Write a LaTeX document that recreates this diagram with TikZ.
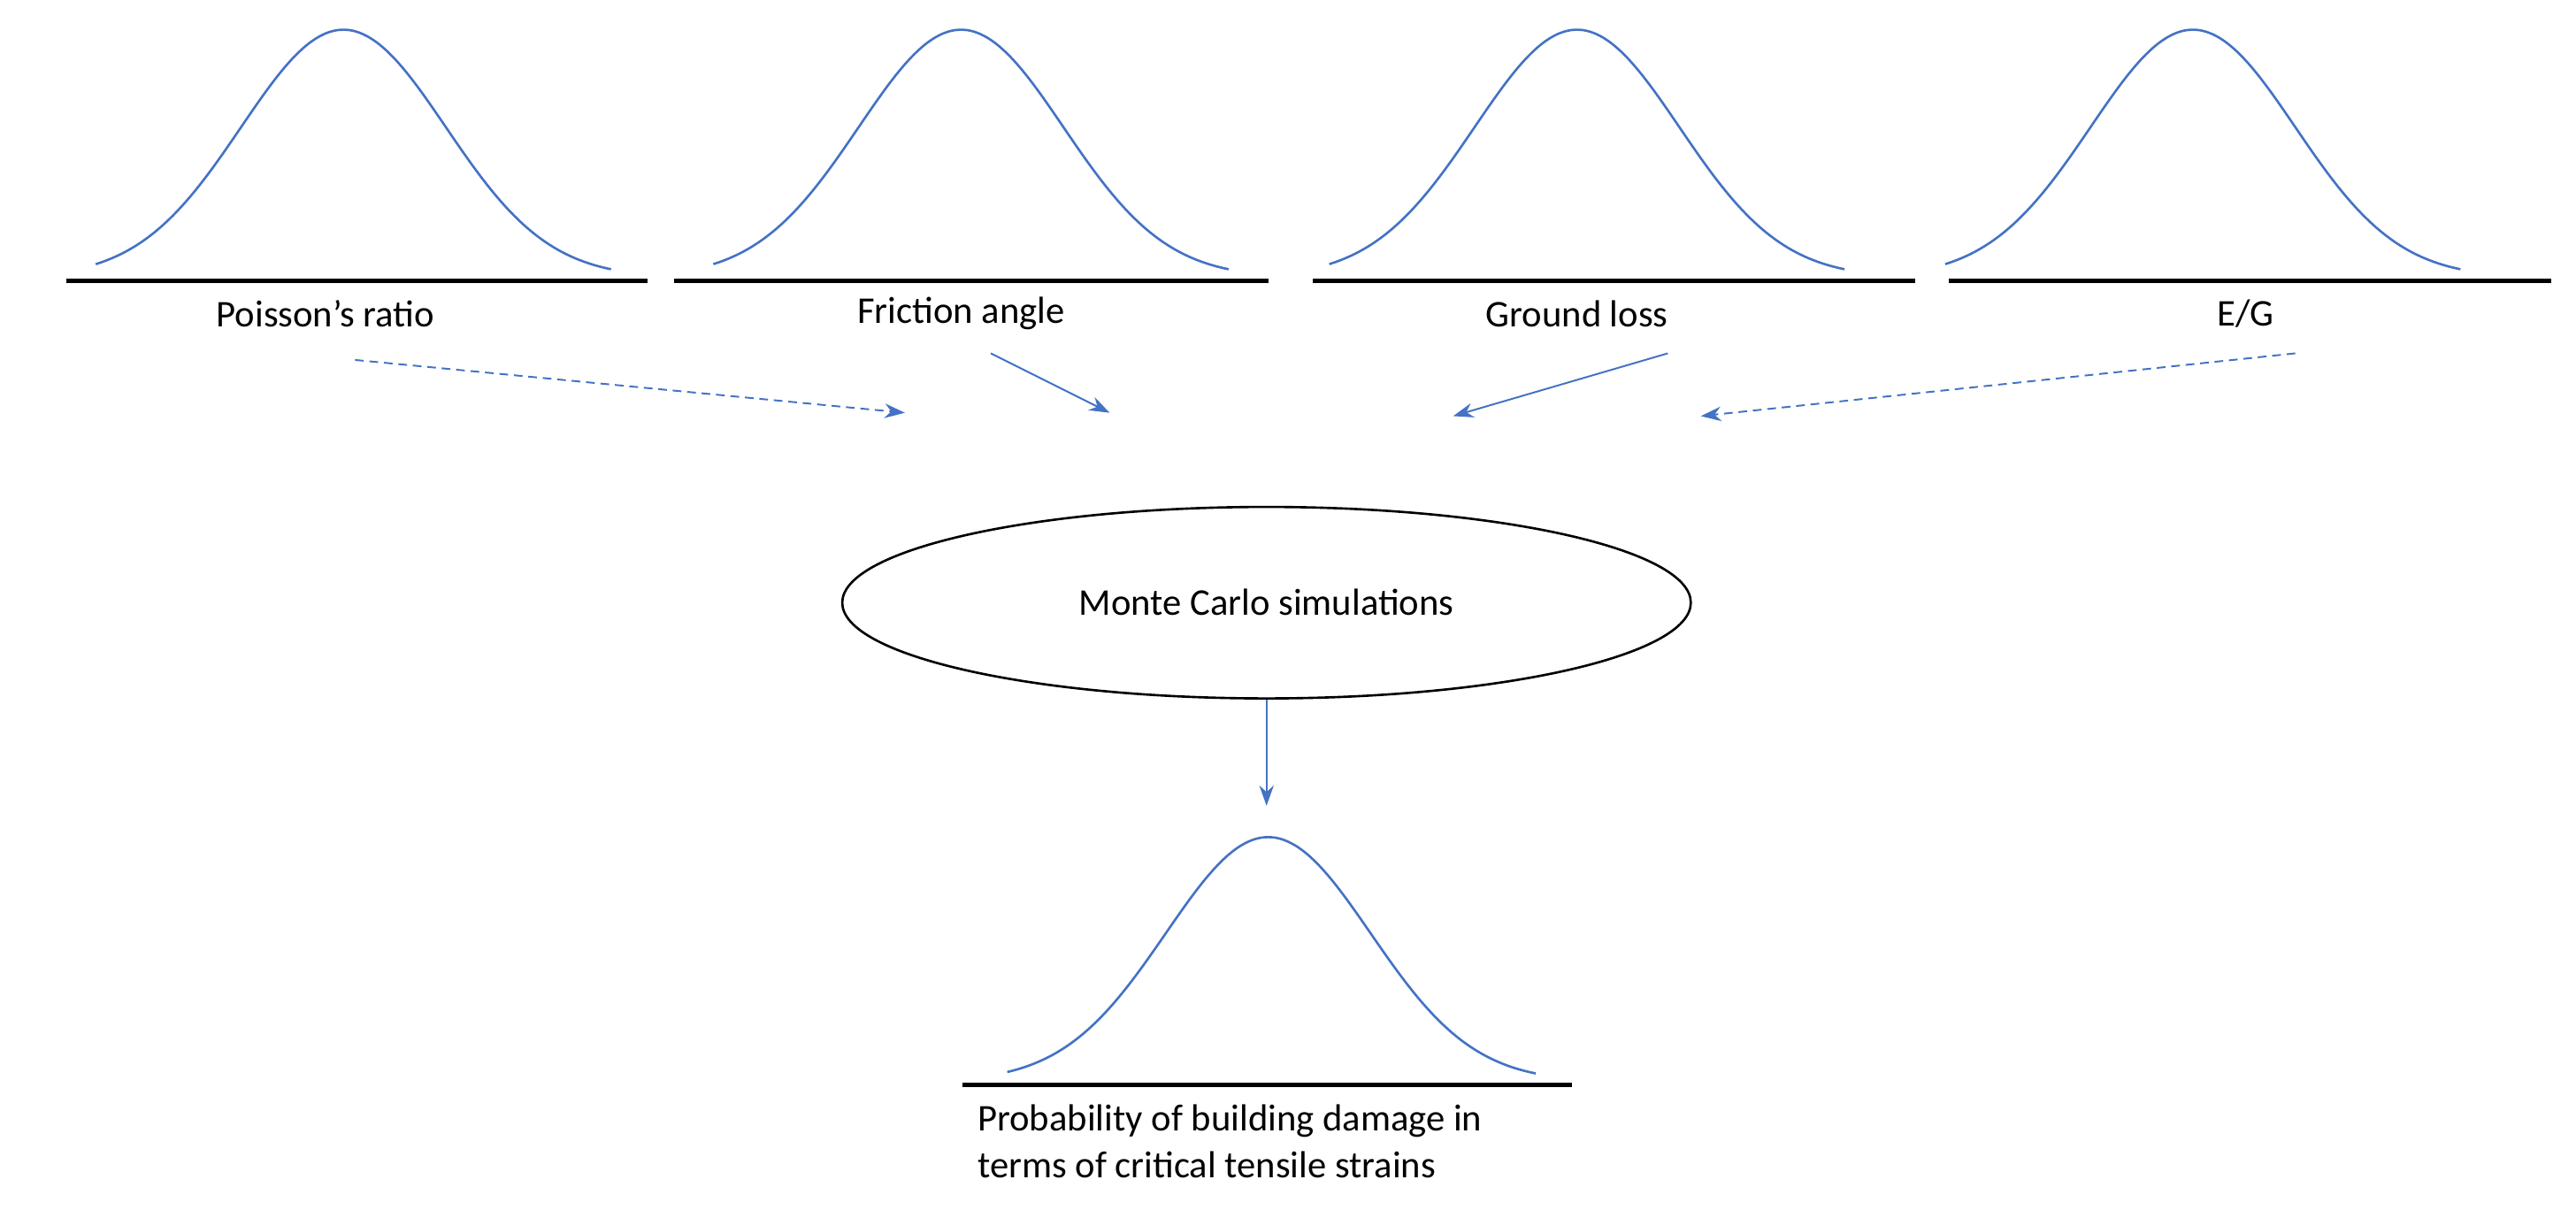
\documentclass[tikz,border=0pt]{standalone}
\usepackage{fontspec}
\setmainfont{Carlito}
\usetikzlibrary{arrows.meta,shapes.geometric}
\definecolor{bl}{RGB}{68,114,196}
\begin{document}
\begin{tikzpicture}[x=0.02cm,y=-0.02cm,
  base/.style={line width=1.4pt,black},
  bell/.style={bl,line width=0.8pt},
  lab/.style={font=\fontsize{13}{16}\selectfont,inner sep=1pt},
  arr/.style={bl,line width=0.6pt,-{Stealth[length=7pt,width=5pt]}},
  dot/.style={arr,densely dashed}]
\useasboundingbox (0,0) rectangle (1560,737.6);
\foreach \c/\l/\r/\n in {208/40/392/a,582/408/768/b,955/795/1160/c,1328/1180/1545/d}{
  \draw[base] (\l,170) -- (\r,170);
  \draw[bell] plot[domain=-150:162,samples=80,smooth] ({\c+\x},{168-150*exp(-0.5*(\x/62)^2)});
}
\node[lab] (pa) at (197,190) {Poisson’s ratio};
\node[lab] (pb) at (582,190) {Friction angle};
\node[lab] (pc) at (955,190) {Ground loss};
\node[lab] (pd) at (1360,190) {E/G};
\node[draw,ellipse,line width=0.8pt,minimum width=10.28cm,minimum height=2.32cm,inner sep=0pt,font=\fontsize{13}{16}\selectfont] (mc) at (767,365) {Monte Carlo simulations};
\coordinate (e1) at (548,250);
\coordinate (e2) at (672,250);
\coordinate (e3) at (880,252);
\coordinate (e4) at (1030,252);
\coordinate (e5) at (767,488);
\draw[dot] (215,218) -- (e1);
\draw[arr] (600,214) -- (e2);
\draw[arr] (1010,214) -- (e3);
\draw[dot] (1390,214) -- (e4);
\draw[arr] (mc.south) -- (e5);
\draw[base] (583,657) -- (952,657);
\draw[bell] plot[domain=-158:162,samples=80,smooth] ({768+\x},{655-148*exp(-0.5*(\x/62)^2)});
\node[lab,anchor=north west,align=left] (res) at (590,667) {Probability of building damage in\\terms of critical tensile strains};
\end{tikzpicture}
\end{document}
